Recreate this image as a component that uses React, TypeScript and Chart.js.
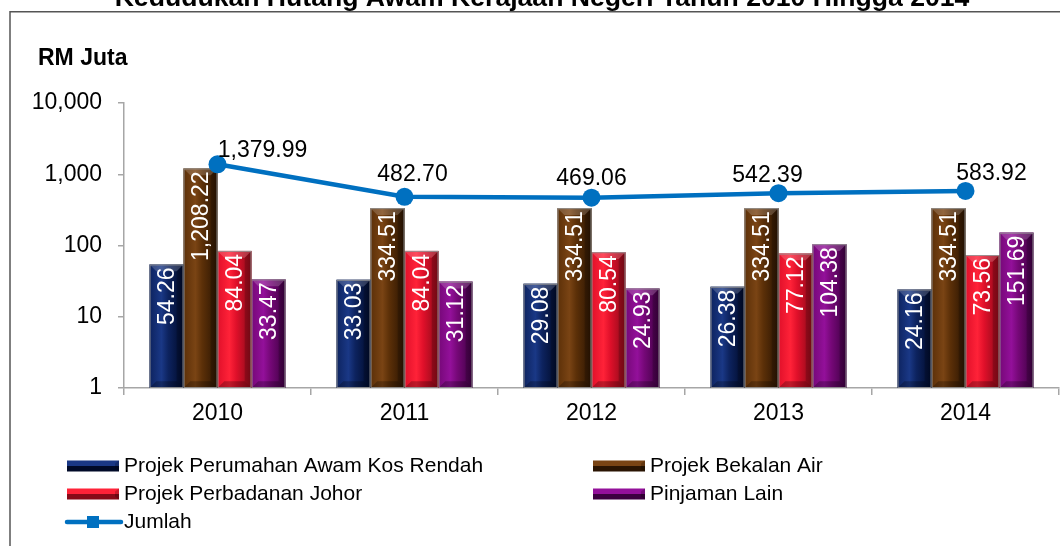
import React, { useEffect, useRef } from 'react';
import { Chart, registerables } from 'chart.js';
Chart.register(...registerables);

const categories = ['2010', '2011', '2012', '2013', '2014'];
const perumahan = [54.26, 33.03, 29.08, 26.38, 24.16];
const bekalanAir = [1208.22, 334.51, 334.51, 334.51, 334.51];
const perbadanan = [84.04, 84.04, 80.54, 77.12, 73.56];
const pinjaman = [33.47, 31.12, 24.93, 104.38, 151.69];
const jumlah = [1379.99, 482.7, 469.06, 542.39, 583.92];
const yTicks = [1, 10, 100, 1000, 10000];
const seriesNames = [
  'Projek Perumahan Awam Kos Rendah',
  'Projek Bekalan Air',
  'Projek Perbadanan Johor',
  'Pinjaman Lain',
  'Jumlah',
];
const chartTitle = 'Kedudukan Hutang Awam Kerajaan Negeri Tahun 2010 Hingga 2014';
const unitLabel = 'RM Juta';

const FONT = '"Liberation Sans", Arial, Helvetica, sans-serif';

const palettes = [
  { mid: '#0D235F', light: '#1A3886', dark: '#000A28' },
  { mid: '#5C3008', light: '#7A4414', dark: '#2A1402' },
  { mid: '#E0102A', light: '#FF2238', dark: '#880A18' },
  { mid: '#760878', light: '#93109A', dark: '#3C0040' },
];
const lineColor = '#0070C0';

// label offsets for the total line (style only)
const lineLabelOffsets = [
  [45, -7],
  [8, -16],
  [0, -13],
  [-11, -11],
  [26, -11],
];

const fmt2 = (v: number) =>
  v.toLocaleString('en-US', { minimumFractionDigits: 2, maximumFractionDigits: 2 });

function drawBevel(ctx: CanvasRenderingContext2D, left: number, top: number, w: number, h: number, pal: any) {
  if (h <= 0 || w <= 0) return;
  ctx.save();
  const g = ctx.createLinearGradient(left, 0, left + w, 0);
  g.addColorStop(0, pal.mid);
  g.addColorStop(0.35, pal.light);
  g.addColorStop(0.55, pal.mid);
  g.addColorStop(1, pal.dark);
  ctx.fillStyle = g;
  ctx.fillRect(left, top, w, h);
  const b = Math.min(w * 0.2, h / 2);
  ctx.fillStyle = 'rgba(255,255,255,0.18)';
  ctx.beginPath();
  ctx.moveTo(left, top);
  ctx.lineTo(left + w, top);
  ctx.lineTo(left + w - b, top + b);
  ctx.lineTo(left + b, top + b);
  ctx.closePath();
  ctx.fill();
  ctx.fillStyle = 'rgba(0,0,0,0.25)';
  ctx.beginPath();
  ctx.moveTo(left, top + h);
  ctx.lineTo(left + w, top + h);
  ctx.lineTo(left + w - b, top + h - b);
  ctx.lineTo(left + b, top + h - b);
  ctx.closePath();
  ctx.fill();
  ctx.fillStyle = 'rgba(0,0,0,0.18)';
  ctx.beginPath();
  ctx.moveTo(left + w, top);
  ctx.lineTo(left + w, top + h);
  ctx.lineTo(left + w - b, top + h - b);
  ctx.lineTo(left + w - b, top + b);
  ctx.closePath();
  ctx.fill();
  ctx.strokeStyle = 'rgba(150,150,150,0.9)';
  ctx.lineWidth = 1;
  ctx.strokeRect(left + 0.5, top + 0.5, w - 1, h - 1);
  ctx.restore();
}

const bevelPlugin = {
  id: 'bevelBars',
  afterDatasetDraw(chart: any, args: any) {
    const meta = args.meta;
    if (meta.type !== 'bar') return;
    const pal = palettes[args.index];
    const ctx = chart.ctx;
    meta.data.forEach((el: any) => {
      const p = el.getProps(['x', 'y', 'base', 'width'], true);
      const top = Math.min(p.y, p.base);
      const h = Math.abs(p.base - p.y);
      drawBevel(ctx, p.x - p.width / 2, top, p.width, h, pal);
    });
  },
};

const labelPlugin = {
  id: 'valueLabels',
  afterDatasetsDraw(chart: any) {
    const ctx = chart.ctx;
    ctx.save();
    chart.data.datasets.forEach((ds: any, di: number) => {
      const meta = chart.getDatasetMeta(di);
      meta.data.forEach((el: any, i: number) => {
        const p = el.getProps(['x', 'y'], true);
        const v = ds.data[i];
        if (meta.type === 'bar') {
          ctx.save();
          ctx.translate(p.x, p.y + 3);
          ctx.rotate(-Math.PI / 2);
          ctx.font = `23px ${FONT}`;
          ctx.fillStyle = '#FFFFFF';
          ctx.textAlign = 'right';
          ctx.textBaseline = 'middle';
          ctx.fillText(fmt2(v), 0, 1);
          ctx.restore();
        } else {
          const off = lineLabelOffsets[i];
          ctx.font = `23px ${FONT}`;
          ctx.fillStyle = '#000000';
          ctx.textAlign = 'center';
          ctx.textBaseline = 'alphabetic';
          ctx.fillText(fmt2(v), p.x + off[0], p.y + off[1]);
        }
      });
    });
    ctx.restore();
  },
};

const framePlugin = {
  id: 'frame',
  beforeDraw(chart: any) {
    const ctx = chart.ctx;
    ctx.save();
    ctx.fillStyle = '#FFFFFF';
    ctx.fillRect(0, 0, chart.width, chart.height);
    ctx.strokeStyle = '#555555';
    ctx.lineWidth = 1.5;
    ctx.beginPath();
    ctx.moveTo(10, chart.height);
    ctx.lineTo(10, 11.75);
    ctx.lineTo(chart.width, 11.75);
    ctx.stroke();
    ctx.fillStyle = '#000000';
    ctx.font = `bold 26.6px ${FONT}`;
    ctx.textAlign = 'center';
    ctx.textBaseline = 'alphabetic';
    ctx.fillText(chartTitle, 542, 6);
    ctx.font = `bold 23px ${FONT}`;
    ctx.textAlign = 'left';
    ctx.textBaseline = 'middle';
    ctx.fillText(unitLabel, 38, 59);
    ctx.restore();
  },
};

const legendPlugin = {
  id: 'customLegend',
  afterDraw(chart: any) {
    const ctx = chart.ctx;
    ctx.save();
    const slots = [
      { x: 67, y: 466 },
      { x: 593, y: 466 },
      { x: 67, y: 494 },
      { x: 593, y: 494 },
      { x: 67, y: 522 },
    ];
    chart.data.datasets.forEach((ds: any, di: number) => {
      const s = slots[di];
      const sw = 52;
      if (di < 4) {
        const pal = palettes[di];
        const h = 11;
        const top = s.y - h / 2;
        ctx.fillStyle = pal.light;
        ctx.fillRect(s.x, top, sw, h / 2);
        ctx.fillStyle = pal.dark;
        ctx.fillRect(s.x, top + h / 2, sw, h / 2);
        ctx.fillStyle = 'rgba(0,0,0,0.2)';
        ctx.beginPath();
        ctx.moveTo(s.x + sw, top);
        ctx.lineTo(s.x + sw, top + h);
        ctx.lineTo(s.x + sw - 4, top + h - 3);
        ctx.lineTo(s.x + sw - 4, top + 3);
        ctx.closePath();
        ctx.fill();
      } else {
        ctx.strokeStyle = lineColor;
        ctx.lineWidth = 4.5;
        ctx.lineCap = 'round';
        ctx.beginPath();
        ctx.moveTo(s.x, s.y);
        ctx.lineTo(s.x + sw + 2, s.y);
        ctx.stroke();
        ctx.fillStyle = lineColor;
        ctx.fillRect(s.x + 20, s.y - 6, 12, 12);
      }
      ctx.fillStyle = '#000000';
      ctx.font = `21px ${FONT}`;
      ctx.textAlign = 'left';
      ctx.textBaseline = 'middle';
      ctx.fillText(ds.label, s.x + 57, s.y);
    });
    ctx.restore();
  },
};

export default function App() {
  const ref = useRef<HTMLCanvasElement | null>(null);
  useEffect(() => {
    if (!ref.current) return;
    const barSeries = [perumahan, bekalanAir, perbadanan, pinjaman];
    const datasets: any[] = barSeries.map((d, i) => ({
      type: 'bar',
      label: seriesNames[i],
      data: d,
      backgroundColor: palettes[i].mid,
      borderWidth: 0,
      categoryPercentage: 0.727,
      barPercentage: 1.0,
      order: 1,
    }));
    datasets.push({
      type: 'line',
      label: seriesNames[4],
      data: jumlah,
      borderColor: lineColor,
      backgroundColor: lineColor,
      borderWidth: 4.5,
      pointRadius: 9,
      pointBackgroundColor: lineColor,
      pointBorderWidth: 0,
      tension: 0,
      clip: false,
      order: 0,
    });
    const axisColor = '#A6A6A6';
    const chart = new Chart(ref.current, {
      type: 'bar',
      data: { labels: categories, datasets },
      options: {
        animation: false,
        responsive: false,
        maintainAspectRatio: false,
        layout: { autoPadding: false, padding: { top: 103, right: 1, left: 0, bottom: 0 } },
        plugins: {
          legend: { display: false },
          title: { display: false },
          tooltip: { enabled: false },
        },
        scales: {
          x: {
            grid: { drawOnChartArea: false, color: axisColor, tickLength: 7, offset: true, lineWidth: 1.5 },
            border: { color: axisColor, width: 1.5 },
            ticks: { color: '#000000', font: { family: FONT, size: 23 }, padding: 5, maxRotation: 0 },
            afterFit: (s: any) => {
              s.height = 158;
              s.paddingRight = 0;
              s.paddingLeft = 0;
            },
          },
          y: {
            type: 'logarithmic',
            min: 1,
            max: 10000,
            grid: { drawOnChartArea: false, color: axisColor, tickLength: 6, lineWidth: 1.5 },
            border: { color: axisColor, width: 1.5 },
            ticks: {
              color: '#000000',
              font: { family: FONT, size: 23 },
              padding: 16,
              callback: (v: any) => Number(v).toLocaleString('en-US'),
            },
            afterBuildTicks: (s: any) => {
              s.ticks = yTicks.map((v) => ({ value: v }));
            },
            afterFit: (s: any) => {
              s.width = 124;
            },
          },
        },
      } as any,
      plugins: [framePlugin, bevelPlugin, labelPlugin, legendPlugin],
    });
    return () => chart.destroy();
  }, []);
  return (
    <div style={{ position: 'absolute', left: 0, top: 0, width: 1060, height: 546, background: '#fff' }}>
      <canvas ref={ref} width={1060} height={546} style={{ display: 'block', width: 1060, height: 546 }} />
    </div>
  );
}
